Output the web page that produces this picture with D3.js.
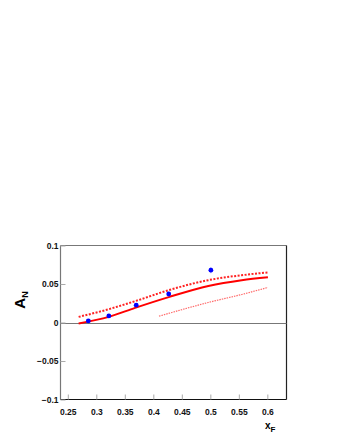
<!DOCTYPE html>
<html>
<head>
<meta charset="utf-8">
<script src="https://cdn.jsdelivr.net/npm/d3@7"></script>
<style>
  body { margin: 0; background: #fff; }
  svg { display: block; font-family: "Liberation Sans", Arial, sans-serif; }
</style>
</head>
<body>
<div id="chart"></div>
<script>
// measured points
const POINT_X = [0.286, 0.322, 0.370, 0.427, 0.501];
const POINT_Y = [0.002, 0.0086, 0.0225, 0.037, 0.068];
const POINT_ERR = [0.002, 0.002, 0.002, 0.003, 0.004];

// model curves
const MID_X = [0.269, 0.322, 0.368, 0.427, 0.4965, 0.555, 0.601];
const MID_Y = [-0.0013, 0.0073, 0.019, 0.033, 0.0475, 0.055, 0.0588];
const UP_X = [0.269, 0.322, 0.368, 0.427, 0.4965, 0.555, 0.601];
const UP_Y = [0.0073, 0.0173, 0.0277, 0.042, 0.055, 0.0614, 0.065];
const LOW_X = [0.410, 0.4965, 0.555, 0.601];
const LOW_Y = [0.0082, 0.026, 0.0364, 0.0455];

const X_TICKS = [0.25, 0.3, 0.35, 0.4, 0.45, 0.5, 0.55, 0.6];
const Y_TICKS = [-0.1, -0.05, 0, 0.05, 0.1];

const W = 340, H = 440;
const M_LEFT = 60.5, M_RIGHT = 286.5, M_TOP = 245.5, M_BOTTOM = 399.5;

const svg = d3.select("#chart").append("svg").attr("width", W).attr("height", H);

const x = d3.scaleLinear().domain([0.2372, 0.6336]).range([M_LEFT, M_RIGHT]);
const y = d3.scaleLinear().domain([-0.1, 0.1]).range([M_BOTTOM, M_TOP]);

// frame
svg.append("line").attr("x1", M_LEFT).attr("x2", M_RIGHT).attr("y1", M_TOP).attr("y2", M_TOP)
  .attr("stroke", "#777").attr("stroke-width", 1);
svg.append("line").attr("x1", M_LEFT).attr("x2", M_LEFT).attr("y1", M_TOP).attr("y2", M_BOTTOM)
  .attr("stroke", "#777").attr("stroke-width", 1.2);
svg.append("line").attr("x1", M_RIGHT).attr("x2", M_RIGHT).attr("y1", M_TOP).attr("y2", M_BOTTOM)
  .attr("stroke", "#222").attr("stroke-width", 1.2);
svg.append("line").attr("x1", M_LEFT).attr("x2", M_RIGHT).attr("y1", M_BOTTOM).attr("y2", M_BOTTOM)
  .attr("stroke", "#111").attr("stroke-width", 1.2);

// zero line
svg.append("line").attr("x1", M_LEFT).attr("x2", M_RIGHT)
  .attr("y1", Math.round(y(0)) + 0.5).attr("y2", Math.round(y(0)) + 0.5)
  .attr("stroke", "#777").attr("stroke-width", 1);

// x axis, ticks point inside
const xAxis = svg.append("g").attr("transform", `translate(0,${M_BOTTOM})`)
  .call(d3.axisBottom(x).tickValues(X_TICKS).tickSize(-5).tickPadding(9)
    .tickFormat(d => d3.format("")(d)));
xAxis.select(".domain").remove();
xAxis.selectAll(".tick line").attr("stroke", "#aaa");
xAxis.selectAll("text").attr("font-size", 8.5).attr("font-weight", "bold").attr("fill", "#111");

const yAxis = svg.append("g").attr("transform", `translate(${M_LEFT},0)`)
  .call(d3.axisLeft(y).tickValues(Y_TICKS).tickSize(-5).tickPadding(2));
yAxis.select(".domain").remove();
yAxis.selectAll(".tick line").attr("stroke", "#aaa");
yAxis.selectAll("text").attr("font-size", 8.5).attr("font-weight", "bold").attr("fill", "#111")
  .text(d => d < 0 ? "\u2212" + Math.abs(d) : String(d));

// curves
const line = d3.line().curve(d3.curveMonotoneX);
const toPts = (xs, ys) => xs.map((v, i) => [x(v), y(ys[i])]);

svg.append("path").attr("d", line(toPts(LOW_X, LOW_Y)))
  .attr("fill", "none").attr("stroke", "#ff6b6b").attr("stroke-width", 1.2)
  .attr("stroke-dasharray", "1.5,1");
svg.append("path").attr("d", line(toPts(UP_X, UP_Y)))
  .attr("fill", "none").attr("stroke", "#f22").attr("stroke-width", 2)
  .attr("stroke-dasharray", "2,1.5");
svg.append("path").attr("d", line(toPts(MID_X, MID_Y)))
  .attr("fill", "none").attr("stroke", "#f00").attr("stroke-width", 2);

// points with error bars
const pts = svg.append("g");
pts.selectAll("line").data(POINT_X).join("line")
  .attr("x1", d => x(d)).attr("x2", d => x(d))
  .attr("y1", (d, i) => y(POINT_Y[i] - POINT_ERR[i]))
  .attr("y2", (d, i) => y(POINT_Y[i] + POINT_ERR[i]))
  .attr("stroke", "#99f").attr("stroke-width", 1);
pts.selectAll("circle").data(POINT_X).join("circle")
  .attr("cx", d => x(d)).attr("cy", (d, i) => y(POINT_Y[i]))
  .attr("r", 2.4).attr("fill", "#00f");

// axis titles
svg.append("text").attr("transform", "translate(25,300) rotate(-90)")
  .attr("font-size", 15).attr("font-weight", "bold").attr("text-anchor", "middle")
  .html('A<tspan font-size="9" dy="3">N</tspan>');
svg.append("text").attr("x", 265).attr("y", 429)
  .attr("font-size", 10).attr("font-weight", "bold")
  .html('x<tspan font-size="8" dy="3">F</tspan>');
</script>
</body>
</html>
